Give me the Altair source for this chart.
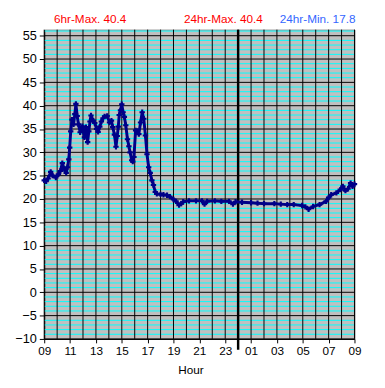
import altair as alt
import pandas as pd

# ---- data ----
hours = [0, 0.15, 0.3, 0.5, 0.65, 0.9, 1.1, 1.25, 1.4, 1.55, 1.7, 1.8, 1.9, 1.97,
         2.05, 2.15, 2.27, 2.37, 2.45, 2.55, 2.65, 2.78, 2.95, 3.11, 3.23, 3.36,
         3.45, 3.54, 3.62, 3.8, 3.91, 4.05, 4.17, 4.3, 4.42, 4.55, 4.67, 4.87,
         5.05, 5.2, 5.3, 5.43, 5.55, 5.65, 5.73, 5.8, 5.9, 6.0, 6.1, 6.2, 6.31,
         6.44, 6.55, 6.64, 6.77, 6.85, 6.94, 7.07, 7.2, 7.32, 7.45, 7.58, 7.7,
         7.83, 7.95, 8.08, 8.2, 8.33, 8.45, 8.59, 8.71, 9.0, 9.22, 9.5, 9.72,
         10.0, 10.2, 10.43, 10.6, 10.75, 11.2, 11.74, 12.2, 12.4, 12.6, 13.2,
         13.7, 14.3, 14.6, 14.8, 15.3, 16.0, 16.5, 17.0, 17.8, 18.3, 18.8, 19.3,
         19.95, 20.2, 20.45, 20.8, 21.3, 21.8, 22.0, 22.2, 22.6, 22.9, 23.1,
         23.3, 23.5, 23.7, 23.85, 24.0]
temps = [24.0, 23.8, 24.4, 25.8, 25.0, 24.6, 25.3, 26.0, 27.7, 26.4, 25.6, 26.8,
         28.5, 31.0, 34.5, 37.0, 36.0, 38.2, 40.4, 37.8, 36.0, 34.3, 35.6, 33.2,
         35.4, 32.2, 34.5, 36.6, 37.9, 36.8, 36.3, 35.0, 34.4, 35.5, 36.6, 37.3,
         37.7, 37.8, 36.4, 36.8, 35.4, 33.8, 31.2, 33.5, 35.5, 38.0, 39.0, 40.3,
         38.6, 37.6, 35.8, 32.8, 31.3, 30.0, 28.3, 28.0, 29.0, 34.7, 34.6, 33.9,
         36.4, 38.6, 37.2, 33.6, 29.6, 26.8, 25.6, 24.0, 23.0, 21.5, 21.1, 21.0,
         20.9, 20.8, 20.5, 19.9, 19.5, 18.7, 19.0, 19.4, 19.6, 19.6, 19.6, 18.9,
         19.5, 19.6, 19.5, 19.5, 18.9, 19.4, 19.3, 19.2, 19.1, 19.0, 19.0, 18.9,
         18.8, 18.8, 18.6, 18.3, 17.8, 18.4, 18.8, 19.5, 20.3, 20.9, 21.3, 22.0,
         22.7, 21.8, 22.2, 23.4, 22.7, 23.2]

y_ticks = list(range(-10, 60, 5))
minor_y = [v for v in range(-9, 57) if v % 5 != 0]
hour_grid = list(range(0, 25))
x_ticks = list(range(0, 25, 2))
x_labels = ["09", "11", "13", "15", "17", "19", "21", "23", "01", "03", "05", "07", "09"]
midnight = [15]
titles = ["6hr-Max. 40.4", "24hr-Max. 40.4", "24hr-Min. 17.8"]
x_title = ["Hour"]

FONT = "Liberation Sans"
W, H = 317, 316

xs = alt.Scale(domain=[0, 24], nice=False, zero=False)
ys = alt.Scale(domain=[-10, 56.3], nice=False, zero=False)

label_expr = "[" + ",".join(f"'{l}'" for l in x_labels) + "][round(datum.value/2)]"

x_axis = alt.Axis(values=x_ticks, labelExpr=label_expr, tickSize=4, labelPadding=3,
                  grid=False, title=None, domainColor="black", tickColor="black",
                  labelColor="black", labelFont=FONT, labelFontSize=12, labelFlush=False,
                  labelOverlap=False)
y_axis = alt.Axis(values=y_ticks, tickSize=5, labelPadding=3, grid=False, title=None,
                  domainColor="black", tickColor="black", labelColor="black",
                  labelFont=FONT, labelFontSize=13, labelOverlap=False)

df = pd.DataFrame({"h": hours, "t": temps})

minor = alt.Chart(pd.DataFrame({"y": minor_y})).mark_rule(
    color="#00FFFF", strokeWidth=1).encode(y=alt.Y("y:Q", scale=ys, axis=y_axis))
major = alt.Chart(pd.DataFrame({"y": y_ticks})).mark_rule(
    color="black", strokeWidth=1).encode(y=alt.Y("y:Q", scale=ys, axis=y_axis))
vgrid = alt.Chart(pd.DataFrame({"x": hour_grid})).mark_rule(
    color="black", strokeWidth=1).encode(x=alt.X("x:Q", scale=xs, axis=x_axis))
mid = alt.Chart(pd.DataFrame({"x": midnight})).mark_rule(
    color="black", strokeWidth=2.5).encode(
    x=alt.X("x:Q", scale=xs, axis=x_axis), y=alt.value(0), y2=alt.value(327))
line = alt.Chart(df).mark_line(color="#000088", strokeWidth=3, strokeJoin="round").encode(
    x=alt.X("h:Q", scale=xs, axis=x_axis), y=alt.Y("t:Q", scale=ys, axis=y_axis))
pts = alt.Chart(df).mark_point(shape="cross", filled=True, color="#000088", size=30,
                               opacity=1).encode(
    x=alt.X("h:Q", scale=xs, axis=x_axis), y=alt.Y("t:Q", scale=ys, axis=y_axis))

def txt(s, x, y, color, align):
    return alt.Chart(pd.DataFrame({"s": [s]})).mark_text(
        font=FONT, fontSize=12, color=color, align=align, baseline="middle").encode(
        text="s:N", x=alt.value(x), y=alt.value(y))

t1 = txt(titles[0], 10, -11, "#FF0000", "left")
t2 = txt(titles[1], 183, -11, "#FF0000", "center")
t3 = txt(titles[2], 318, -11, "#3366FF", "right")
t4 = txt(x_title[0], 150, 348, "black", "center")

chart = alt.layer(minor, major, vgrid, mid, line, pts, t1, t2, t3, t4).properties(
    width=W, height=H,
    autosize=alt.AutoSizeParams(type="none"),
    padding={"left": 37, "top": 18, "right": 23, "bottom": 46},
    background="white",
).configure_view(fill="#C0C0C0", stroke="#808080", strokeWidth=1)

chart.save("out.html", embed_options={"renderer": "svg", "actions": False})
